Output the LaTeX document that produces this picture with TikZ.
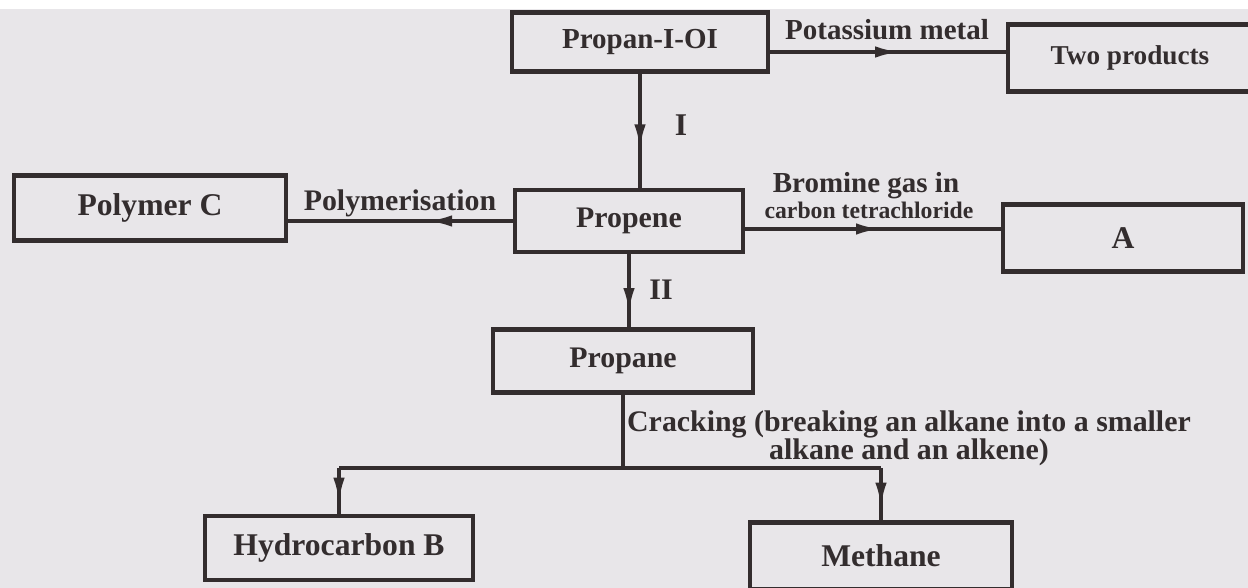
\documentclass[tikz,border=0pt]{standalone}
\usepackage{fontspec}
\setmainfont{Liberation Serif}
\usetikzlibrary{decorations.markings,arrows.meta}
\definecolor{paper}{HTML}{E8E6E9}
\definecolor{ink}{HTML}{332D2E}

\begin{document}
\begin{tikzpicture}[x=0.02cm, y=-0.02cm,
  box/.style={draw=ink, line width=2.6pt, inner sep=0pt, text=ink,
    font=\fontsize{18}{21}\selectfont\bfseries},
  lbl/.style={text=ink, inner sep=0pt, font=\fontsize{18}{21}\selectfont\bfseries},
  fs/.style={font=\fontsize{#1}{#1}\selectfont\bfseries},
  flow/.style={draw=ink, line width=2pt, postaction={decorate},
    decoration={markings, mark=at position #1 with {\arrow{Latex[length=14pt,width=6.5pt]}}}},
  flow/.default=0.6,
  link/.style={draw=ink, line width=2pt}]

% Paper
\fill[paper] (0,0) rectangle (1248,588);
\fill[white] (0,0) rectangle (1248,9);
\useasboundingbox (0,0) rectangle (1248,588);

% Boxes
\node[box, fs=16.5, minimum width=5.12cm, minimum height=1.18cm] (propanol) at (640,42) {Propan-I-OI};
\node[box, fs=15.5, minimum width=4.88cm, minimum height=1.34cm] (two) at (1130,58) {Two products};
\node[box, minimum width=5.44cm, minimum height=1.3cm] (polymer) at (150,208) {Polymer C};
\node[box, fs=17, minimum width=4.56cm, minimum height=1.24cm] (propene) at (629,221) {Propene};
\node[box, minimum width=4.8cm, minimum height=1.34cm] (A) at (1123,238) {A};
\node[box, fs=17, minimum width=5.2cm, minimum height=1.26cm] (propane) at (623,361) {Propane};
\node[box, minimum width=5.36cm, minimum height=1.28cm] (hydro) at (339,548) {Hydrocarbon B};
\node[box, minimum width=5.24cm, minimum height=1.34cm] (methane) at (881,556) {Methane};

% Arrows
\coordinate (kstart) at ([yshift=-0.2cm]propanol.east);
\coordinate (brstart) at ([yshift=-0.16cm]propene.east);
\draw[flow=0.55] (kstart) -- (kstart -| two.west);
\draw[flow=0.66] (propanol.south) -- (propanol.south |- propene.north);
\draw[flow=0.38] (propene.west) -- (polymer.east |- propene.west);
\draw[flow=0.53] (brstart) -- (brstart -| A.west);
\draw[flow=0.8] (propene.south) -- (propene.south |- propane.north);

% Cracking split
\coordinate (split) at (623,468);
\draw[link] (propane.south) -- (split);
\draw[link] (hydro.north |- split) -- (methane.north |- split);
\draw[flow=0.75] (hydro.north |- split) -- (hydro.north);
\draw[flow=0.75] (methane.north |- split) -- (methane.north);

% Labels
\node[lbl, fs=16.5] (potassium) at (887,30) {Potassium metal};
\node[lbl] (one) at (681,125) {I};
\node[lbl, fs=17] (polym) at (400,203) {Polymerisation};
\node[lbl, fs=16.5] (bromine) at (866,186) {Bromine gas in};
\node[lbl, fs=13.5] (ccl) at (869,210) {carbon tetrachloride};
\node[lbl, fs=17] (twolbl) at (661,290) {II};
\node[lbl, align=center, font=\fontsize{17}{16}\selectfont\bfseries] (crack) at (909,438)
  {Cracking (breaking an alkane into a smaller\\alkane and an alkene)};

\end{tikzpicture}
\end{document}
